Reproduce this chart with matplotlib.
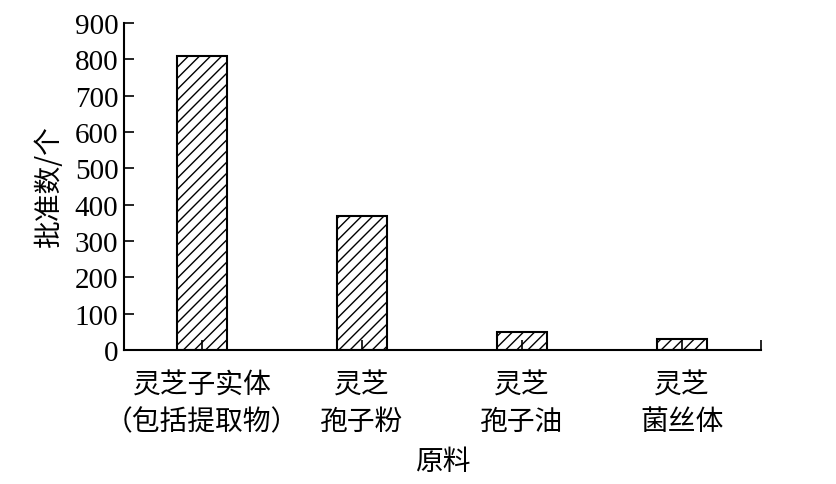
import matplotlib
matplotlib.use("Agg")
import matplotlib.pyplot as plt
import numpy as np

categories = ["灵芝子实体\n（包括提取物）", "灵芝\n孢子粉", "灵芝\n孢子油", "灵芝\n菌丝体"]
values = [810, 368, 50, 30]
yticks = [0, 100, 200, 300, 400, 500, 600, 700, 800, 900]

plt.rcParams['hatch.linewidth'] = 1.0
fig = plt.figure(figsize=(8.37, 4.85), dpi=100)
ax = fig.add_axes([0.148, 0.2763, 0.761, 0.6742])

x = np.arange(len(categories))
ax.bar(x, values, width=0.31, facecolor='white', edgecolor='black', hatch='///', linewidth=1.5, zorder=1)

ax.set_xlim(-0.4875, 3.494)
ax.set_ylim(0, 900)
ax.spines['top'].set_visible(False)
ax.spines['right'].set_visible(False)
for s in ['left', 'bottom']:
    ax.spines[s].set_linewidth(1.5)

ax.set_yticks(yticks)
ax.set_yticklabels([str(t) for t in yticks], fontfamily='Liberation Serif', fontsize=21)
ax.set_xticks(x)
ax.set_xticklabels(categories, fontfamily=['Noto Sans CJK SC', 'DejaVu Sans'], fontsize=20, linespacing=1.3)
ax.set_xticks([3.494], minor=True)
ax.tick_params(axis='both', which='both', direction='in', length=7, width=1.2)
ax.tick_params(axis='x', pad=14)
ax.tick_params(axis='y', pad=4)

ax.set_ylabel("批准数/个", fontfamily=['Noto Sans CJK SC', 'DejaVu Sans'], fontsize=20, labelpad=8)
ax.set_xlabel("原料", fontfamily=['Noto Sans CJK SC', 'DejaVu Sans'], fontsize=20, labelpad=7)

fig.savefig("out.png", dpi=100)
